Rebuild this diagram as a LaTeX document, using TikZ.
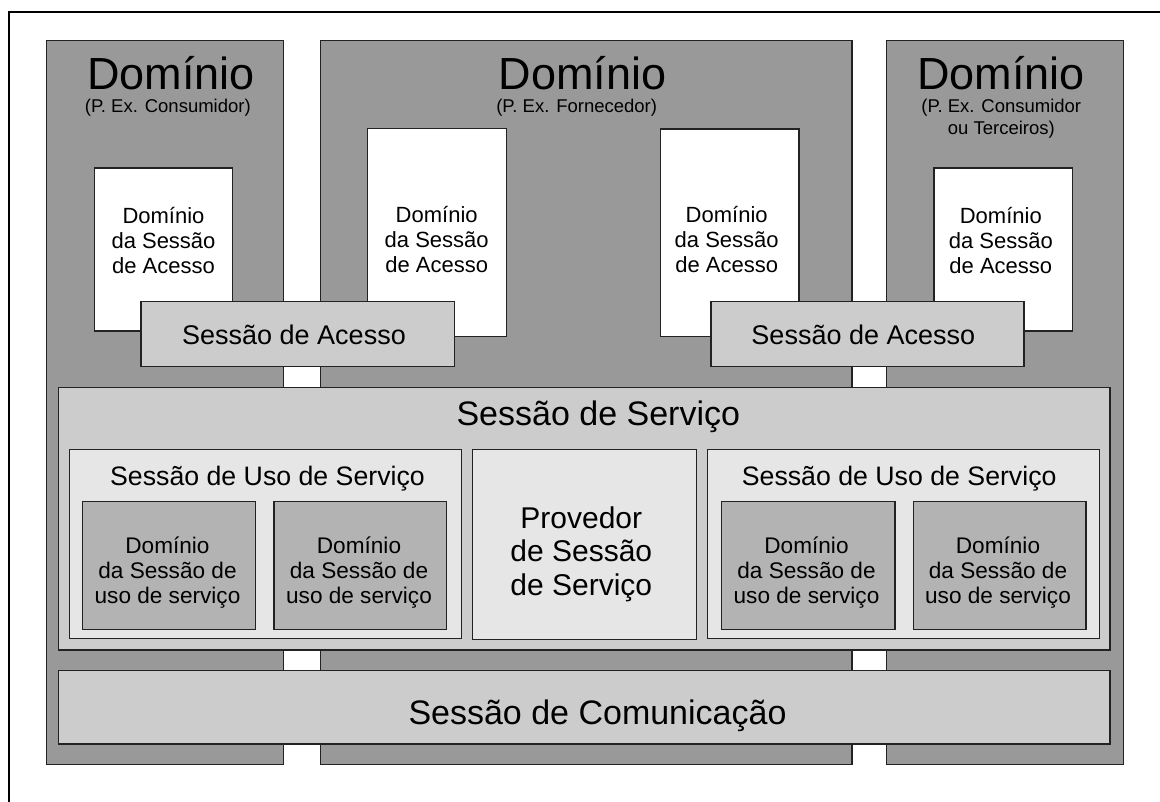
\documentclass[tikz,border=0pt]{standalone}
\usepackage{fontspec}
\setmainfont{Liberation Sans}
\definecolor{colgray}{HTML}{999999}
\definecolor{sessgray}{HTML}{CCCCCC}
\definecolor{usegray}{HTML}{E6E6E6}
\definecolor{innergray}{HTML}{B3B3B3}
\definecolor{linec}{HTML}{222222}
\begin{document}
\begin{tikzpicture}[x=1pt,y=-1pt,
  box/.style={draw=linec, line width=1.2pt, rectangle, inner sep=0pt, outer sep=0pt},
  col/.style={box, fill=colgray},
  wbox/.style={box, fill=white},
  sess/.style={box, fill=sessgray},
  usess/.style={box, fill=usegray},
  idom/.style={box, fill=innergray},
  txt/.style={inner sep=0pt, outer sep=0pt, align=center, anchor=base},
  bigT/.style={txt, font=\fontsize{45}{54}\selectfont},
  subT/.style={txt, font=\fontsize{18.5}{22}\selectfont},
  wT/.style={txt, font=\fontsize{22}{25}\selectfont},
  asT/.style={txt, font=\fontsize{27}{32}\selectfont},
  ssT/.style={txt, font=\fontsize{34}{40}\selectfont},
  usT/.style={txt, font=\fontsize{26.7}{32}\selectfont},
  pT/.style={txt, font=\fontsize{30}{33.3}\selectfont},
  idT/.style={txt, font=\fontsize{22.6}{24.8}\selectfont}
]
\useasboundingbox (0,0) rectangle (1160,802);
\fill[white] (0,0) rectangle (1160,802);
% outer frame
\coordinate (fbl) at (8.5,802);
\coordinate (ftl) at (8.5,12);
\coordinate (ftr) at (1160,12);
\draw[line width=2pt, black] (fbl) -- (ftl) -- (ftr);

% domain columns
\node[col, minimum width=237, minimum height=724] (colA) at (165,402.5) {};
\node[col, minimum width=531.5, minimum height=724] (colB) at (586.25,402.5) {};
\node[col, minimum width=236.6, minimum height=724] (colC) at (1005,402.5) {};

\node[bigT] (tA) at (171,90) {Domínio};
\node[subT] (sA) at (167.8,113) {(P. Ex. Consumidor)};
\node[bigT] (tB) at (582.5,90) {Domínio};
\node[subT] (sB) at (576.7,113) {(P. Ex. Fornecedor)};
\node[bigT] (tC) at (1000.8,90) {Domínio};
\node[subT] (sC) at (1001.3,135) {(P. Ex. Consumidor\\ou Terceiros)};

% access session domains
\node[wbox, minimum width=138.4, minimum height=163] (w1) at (163.5,249.5) {};
\node[wbox, minimum width=139, minimum height=208.4] (w2) at (437.2,232.5) {};
\node[wbox, minimum width=138.5, minimum height=207.7] (w3) at (729.75,232.85) {};
\node[wbox, minimum width=138.7, minimum height=163] (w4) at (1003.35,249.5) {};
\node[wT] (w1t) at (163.5,273.3) {Domínio\\da Sessão\\de Acesso};
\node[wT] (w2t) at (436.7,272.5) {Domínio\\da Sessão\\de Acesso};
\node[wT] (w3t) at (726.7,272.5) {Domínio\\da Sessão\\de Acesso};
\node[wT] (w4t) at (1000.8,273.3) {Domínio\\da Sessão\\de Acesso};

% access sessions
\node[sess, minimum width=313.3, minimum height=65] (as1) at (297.65,334.2) {};
\node[sess, minimum width=313, minimum height=65] (as2) at (867.5,334.2) {};
\node[asT] (as1t) at (294,345) {Sessão de Acesso};
\node[asT] (as2t) at (863.3,345) {Sessão de Acesso};

% service session
\node[sess, minimum width=1051.7, minimum height=262.7] (ss) at (584.15,518.65) {};
\node[ssT] (sst) at (598.3,425) {Sessão de Serviço};

\node[usess, minimum width=392.4, minimum height=189.4] (u1) at (265.5,544) {};
\node[usess, minimum width=392, minimum height=189.4] (u2) at (903.3,544) {};
\node[usess, minimum width=224.4, minimum height=190] (pv) at (584.5,544.3) {};
\node[usT] (u1t) at (267.5,485) {Sessão de Uso de Serviço};
\node[usT] (u2t) at (899.2,485) {Sessão de Uso de Serviço};
\node[pT] (pvt) at (581.3,595) {Provedor\\de Sessão\\de Serviço};

\node[idom, minimum width=172.6, minimum height=127.6] (d1) at (169,565.5) {};
\node[idom, minimum width=172.7, minimum height=127.6] (d2) at (360.35,565.5) {};
\node[idom, minimum width=173.3, minimum height=127.6] (d3) at (808.35,565.5) {};
\node[idom, minimum width=172.7, minimum height=127.6] (d4) at (999.65,565.5) {};
\node[idT] (d1t) at (167.5,603) {Domínio\\da Sessão de\\uso de serviço};
\node[idT] (d2t) at (359,603) {Domínio\\da Sessão de\\uso de serviço};
\node[idT] (d3t) at (806.5,603) {Domínio\\da Sessão de\\uso de serviço};
\node[idT] (d4t) at (998,603) {Domínio\\da Sessão de\\uso de serviço};

% communication session
\node[sess, minimum width=1051.7, minimum height=73.3] (cs) at (584.15,707.35) {};
\node[ssT] (cst) at (597.5,724) {Sessão de Comunicação};
\end{tikzpicture}
\end{document}
